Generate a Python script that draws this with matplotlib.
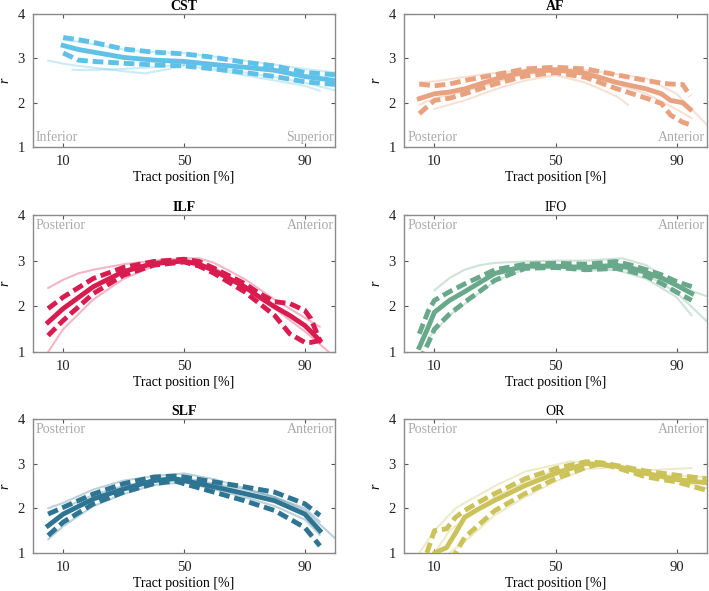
import matplotlib
matplotlib.use('Agg')
import matplotlib.pyplot as plt

plt.rcParams['font.family'] = ['Liberation Serif', 'DejaVu Serif']

# ---- CST ----
cst_x = [10, 15, 20, 30, 40, 50, 60, 70, 80, 90, 100]
cst_upper = [3.47, 3.42, 3.36, 3.21, 3.14, 3.10, 3.02, 2.91, 2.83, 2.68, 2.63]
cst_mean = [3.29, 3.20, 3.14, 3.02, 2.96, 2.93, 2.86, 2.80, 2.73, 2.59, 2.50]
cst_lower = [3.12, 2.96, 2.93, 2.89, 2.85, 2.83, 2.76, 2.68, 2.59, 2.47, 2.41]
cst_light = [
    ([5, 10, 15, 20, 30, 37, 45, 50], [2.95, 2.88, 2.83, 2.79, 2.71, 2.66, 2.76, 2.83]),
    ([13, 20, 30, 40, 50], [2.74, 2.74, 2.76, 2.80, 2.86]),
    ([10, 20, 30, 40, 50, 60, 70, 80, 90, 100], [3.42, 3.32, 3.20, 3.14, 3.12, 3.04, 2.95, 2.86, 2.76, 2.68]),
    ([50, 60, 70, 80, 90, 95], [2.85, 2.74, 2.62, 2.50, 2.38, 2.27]),
    ([60, 70, 80, 90, 100], [2.78, 2.68, 2.58, 2.45, 2.28]),
]

# ---- AF ----
af_x = [5, 10, 15, 20, 30, 40, 50, 60, 70, 80, 85, 88, 92, 94.5]
af_upper = [2.42, 2.38, 2.42, 2.50, 2.63, 2.76, 2.80, 2.76, 2.63, 2.50, 2.44, 2.42, 2.41, 2.15]
af_mean = [2.09, 2.20, 2.24, 2.31, 2.53, 2.70, 2.74, 2.66, 2.46, 2.31, 2.20, 2.05, 2.00, 1.85]
af_lower = [1.75, 2.05, 2.10, 2.20, 2.42, 2.60, 2.68, 2.57, 2.32, 2.10, 1.98, 1.72, 1.56, 1.50]
af_light = [
    ([10, 20, 30, 40, 50, 60, 70, 74], [1.86, 2.05, 2.30, 2.50, 2.62, 2.45, 2.15, 1.95]),
    ([5, 10, 20, 30, 40, 50, 60, 70, 80, 90, 100], [2.45, 2.48, 2.58, 2.67, 2.74, 2.78, 2.74, 2.64, 2.55, 2.20, 1.50]),
    ([5, 10, 20, 30, 40, 50, 60, 70, 80, 90, 95], [1.95, 2.10, 2.25, 2.45, 2.65, 2.72, 2.62, 2.42, 2.20, 1.85, 1.65]),
]

# ---- ILF ----
ilf_x = [5, 10, 20, 30, 40, 50, 55, 60, 70, 75, 80, 85, 90, 92, 95]
ilf_upper = [1.95, 2.20, 2.61, 2.85, 2.98, 3.03, 2.98, 2.83, 2.50, 2.28, 2.10, 2.06, 1.91, 1.73, 1.25]
ilf_mean = [1.65, 1.95, 2.43, 2.76, 2.94, 2.99, 2.92, 2.78, 2.43, 2.20, 1.99, 1.80, 1.58, 1.45, 1.25]
ilf_lower = [1.36, 1.69, 2.28, 2.68, 2.90, 2.97, 2.88, 2.72, 2.32, 2.06, 1.80, 1.40, 1.21, 1.21, 1.25]
ilf_light = [
    ([5, 10, 15, 20, 30, 40, 50], [2.40, 2.58, 2.72, 2.80, 2.92, 3.00, 3.05]),
    ([5, 10, 20, 30, 40, 50, 60, 70, 80, 90, 98], [1.00, 1.50, 2.15, 2.60, 2.88, 3.00, 2.85, 2.45, 1.95, 1.45, 1.00]),
    ([50, 55, 60, 70, 80, 90, 95], [3.05, 3.05, 2.95, 2.60, 2.15, 1.75, 1.55]),
]

# ---- IFO ----
ifo_x = [5, 8, 10, 15, 20, 30, 40, 50, 60, 70, 75, 80, 85, 90, 95]
ifo_upper = [1.40, 1.90, 2.13, 2.32, 2.49, 2.80, 2.92, 2.94, 2.92, 2.98, 2.90, 2.80, 2.69, 2.54, 2.43]
ifo_mean = [1.10, 1.55, 1.87, 2.13, 2.32, 2.72, 2.88, 2.88, 2.85, 2.90, 2.84, 2.74, 2.62, 2.46, 2.28]
ifo_lower = [0.80, 1.20, 1.50, 1.83, 2.09, 2.57, 2.83, 2.85, 2.80, 2.83, 2.76, 2.66, 2.50, 2.31, 2.13]
ifo_light = [
    ([10, 15, 20, 25, 30, 40, 50, 60, 72, 80, 90, 100], [2.35, 2.62, 2.80, 2.90, 2.95, 2.98, 3.00, 3.00, 3.05, 2.90, 2.45, 2.22]),
    ([8, 10, 15, 20, 30, 40, 50, 60, 70, 80, 90, 100], [1.30, 1.45, 1.80, 2.05, 2.55, 2.82, 2.86, 2.82, 2.85, 2.70, 2.30, 1.67]),
    ([50, 60, 70, 80, 90, 95], [2.90, 2.78, 2.80, 2.60, 2.20, 1.80]),
]

# ---- SLF ----
slf_x = [5, 10, 20, 30, 40, 47, 50, 60, 70, 80, 90, 95]
slf_upper = [1.87, 2.02, 2.32, 2.55, 2.70, 2.72, 2.70, 2.59, 2.48, 2.36, 2.10, 1.84]
slf_mean = [1.61, 1.87, 2.21, 2.43, 2.62, 2.66, 2.62, 2.48, 2.33, 2.17, 1.87, 1.50]
slf_lower = [1.39, 1.69, 2.10, 2.36, 2.55, 2.61, 2.55, 2.36, 2.17, 1.95, 1.57, 1.16]
slf_light = [
    ([5, 10, 20, 30, 40, 50, 60, 70, 80, 90, 100], [2.00, 2.12, 2.42, 2.62, 2.72, 2.78, 2.65, 2.45, 2.25, 1.95, 1.33]),
    ([5, 10, 20, 30, 40, 50, 60, 70, 80, 90, 95], [1.30, 1.60, 2.05, 2.32, 2.52, 2.58, 2.42, 2.25, 2.05, 1.75, 1.40]),
    ([10, 20, 30, 40, 50, 60, 70, 80, 90, 95], [2.00, 2.30, 2.50, 2.62, 2.68, 2.55, 2.42, 2.25, 2.00, 1.70]),
]

# ---- OR ----
or_x = [7.5, 10, 14, 17, 20, 25, 30, 40, 50, 60, 65, 70, 80, 90, 100]
or_upper = [1.00, 1.50, 1.54, 1.80, 1.95, 2.15, 2.33, 2.66, 2.89, 3.04, 3.02, 2.96, 2.83, 2.74, 2.66]
or_mean = [0.70, 1.00, 1.12, 1.45, 1.80, 2.00, 2.18, 2.51, 2.78, 3.00, 2.98, 2.94, 2.78, 2.64, 2.57]
or_lower = [0.40, 0.60, 0.80, 1.00, 1.35, 1.65, 1.95, 2.33, 2.66, 2.91, 3.00, 2.91, 2.70, 2.59, 2.40]
or_light = [
    ([5, 10, 17, 20, 30, 40, 55, 70, 80, 95], [1.00, 1.50, 2.00, 2.12, 2.50, 2.82, 3.05, 2.95, 2.85, 2.90]),
    ([10, 15, 20, 30, 40, 50, 60, 70, 80, 90, 100], [1.00, 1.50, 1.75, 2.25, 2.60, 2.85, 3.00, 2.95, 2.80, 2.72, 2.70]),
    ([15, 20, 30, 40, 50, 60, 70, 80, 90, 100], [1.00, 1.25, 1.85, 2.25, 2.60, 2.88, 2.92, 2.75, 2.62, 2.45]),
]

panels = [
    ('CST', '#5fc1e8', cst_x, cst_upper, cst_mean, cst_lower, cst_light, ('Inferior', 'Superior'), 'bottom', 'bold'),
    ('AF', '#e9a27f', af_x, af_upper, af_mean, af_lower, af_light, ('Posterior', 'Anterior'), 'bottom', 'bold'),
    ('ILF', '#d81c50', ilf_x, ilf_upper, ilf_mean, ilf_lower, ilf_light, ('Posterior', 'Anterior'), 'top', 'bold'),
    ('IFO', '#6aa88b', ifo_x, ifo_upper, ifo_mean, ifo_lower, ifo_light, ('Posterior', 'Anterior'), 'top', 'normal'),
    ('SLF', '#2e7593', slf_x, slf_upper, slf_mean, slf_lower, slf_light, ('Posterior', 'Anterior'), 'top', 'bold'),
    ('OR', '#cbc35a', or_x, or_upper, or_mean, or_lower, or_light, ('Posterior', 'Anterior'), 'top', 'normal'),
]

# axes boxes in figure fractions (left, bottom, width, height)
col_left = [0.0465, 0.570]
col_w = [0.426, 0.427]
row_box = [(0.7513, 0.225), (0.4044, 0.232), (0.0643, 0.227)]

fig = plt.figure(figsize=(7.09, 5.91), dpi=100)
spine_c = '#8a8a8a'

for i, (name, color, x, up, mean, lo, light, ends, where, weight) in enumerate(panels):
    r, c = divmod(i, 2)
    ax = fig.add_axes([col_left[c], row_box[r][0], col_w[c], row_box[r][1]])
    for lx, ly in light:
        ax.plot(lx, ly, color=color, alpha=0.32, linewidth=1.5, zorder=1, solid_capstyle='round')
    ax.plot(x, up, color=color, linewidth=3.5, dashes=(2.2, 1.0), zorder=3)
    ax.plot(x, lo, color=color, linewidth=3.5, dashes=(2.2, 1.0), zorder=3)
    ax.plot(x, mean, color=color, linewidth=3.5, zorder=4)

    ax.set_xlim(0, 100)
    ax.set_ylim(1, 4)
    ax.set_xticks([10, 50, 90])
    ax.set_yticks([1, 2, 3, 4])
    ax.tick_params(direction='in', length=3, width=0.8, color='#555555', top=True, right=True,
                   labelsize=10.5, labelcolor='#222222', pad=6)
    for s in ax.spines.values():
        s.set_color(spine_c)
        s.set_linewidth(1.0)
    ax.set_title(name, fontsize=10, fontweight=weight, pad=3)
    ax.set_xlabel('Tract position [%]', fontsize=10, labelpad=2)
    ax.set_ylabel('r', fontsize=10, fontstyle='italic', labelpad=4)

    ty = 0.02 if where == 'bottom' else 0.97
    va = 'bottom' if where == 'bottom' else 'top'
    ax.text(0.01, ty, ends[0], transform=ax.transAxes, fontsize=10, color='#aaaaaa', ha='left', va=va)
    ax.text(0.995, ty, ends[1], transform=ax.transAxes, fontsize=10, color='#aaaaaa', ha='right', va=va)

plt.savefig('out.png', dpi=100, facecolor='white')
